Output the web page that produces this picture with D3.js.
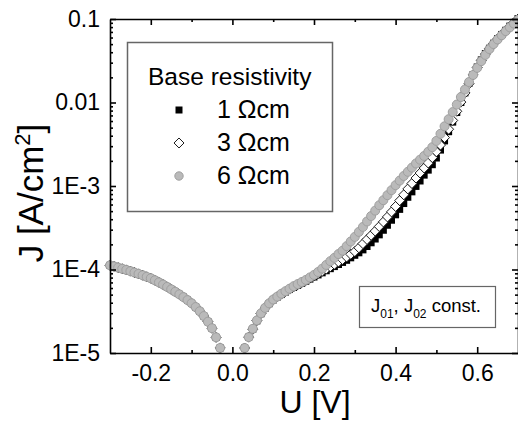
<!DOCTYPE html>
<html>
<head>
<meta charset="utf-8">
<script src="https://cdn.jsdelivr.net/npm/d3@7"></script>
<style>
  body { margin: 0; background: #fff; }
  svg { display: block; font-family: "Liberation Sans", Arial, sans-serif; }
</style>
</head>
<body>
<script>
// reverse bias part, identical for all three wafers
var reverseU = [-0.30, -0.29, -0.28, -0.27, -0.26, -0.25, -0.24, -0.23, -0.22, -0.21,
                -0.20, -0.19, -0.18, -0.17, -0.16, -0.15, -0.14, -0.13, -0.12, -0.11,
                -0.10, -0.09, -0.08, -0.07, -0.06, -0.05, -0.04, -0.03];
var reverseJ = [1.122e-4, 1.089e-4, 1.054e-4, 1.021e-4, 9.89e-5, 9.55e-5, 9.20e-5, 8.87e-5, 8.53e-5, 8.18e-5,
                7.85e-5, 7.43e-5, 7.01e-5, 6.61e-5, 6.19e-5, 5.79e-5, 5.41e-5, 5.04e-5, 4.67e-5, 4.30e-5,
                3.94e-5, 3.55e-5, 3.16e-5, 2.77e-5, 2.37e-5, 1.98e-5, 1.54e-5, 1.15e-5];

// forward bias voltages
var forwardU = [0.03, 0.04, 0.05, 0.06, 0.07, 0.08, 0.09, 0.10, 0.11, 0.12,
                0.13, 0.14, 0.15, 0.16, 0.17, 0.18, 0.19, 0.20, 0.21, 0.22,
                0.23, 0.24, 0.25, 0.26, 0.27, 0.28, 0.29, 0.30, 0.31, 0.32,
                0.33, 0.34, 0.35, 0.36, 0.37, 0.38, 0.39, 0.40, 0.41, 0.42,
                0.43, 0.44, 0.45, 0.46, 0.47, 0.48, 0.49, 0.50, 0.51, 0.52,
                0.53, 0.54, 0.55, 0.56, 0.57, 0.58, 0.59, 0.60, 0.61, 0.62,
                0.63, 0.64, 0.65, 0.66, 0.67, 0.68, 0.69, 0.70];

// 1 Ohm cm
var j1 = [1.148e-5, 1.549e-5, 1.928e-5, 2.427e-5, 2.951e-5, 3.428e-5, 3.890e-5, 4.315e-5, 4.677e-5, 5.012e-5,
          5.370e-5, 5.754e-5, 6.095e-5, 6.457e-5, 6.839e-5, 7.244e-5, 7.674e-5, 8.128e-5, 8.610e-5, 9.120e-5,
          9.661e-5, 1.023e-4, 1.084e-4, 1.148e-4, 1.216e-4, 1.288e-4, 1.380e-4, 1.479e-4, 1.585e-4, 1.718e-4,
          1.884e-4, 2.089e-4, 2.317e-4, 2.600e-4, 2.951e-4, 3.388e-4, 3.890e-4, 4.519e-4, 5.248e-4, 6.166e-4,
          7.328e-4, 8.511e-4, 9.886e-4, 1.148e-3, 1.349e-3, 1.549e-3, 1.799e-3, 2.163e-3, 2.692e-3, 3.467e-3,
          4.467e-3, 5.821e-3, 7.586e-3, 1.000e-2, 1.303e-2, 1.698e-2, 2.163e-2, 2.661e-2, 3.236e-2, 3.846e-2,
          4.467e-2, 5.129e-2, 5.821e-2, 6.531e-2, 7.328e-2, 8.222e-2, 9.120e-2, 1.012e-1];

// 3 Ohm cm
var j3 = [1.148e-5, 1.549e-5, 1.928e-5, 2.443e-5, 2.972e-5, 3.451e-5, 3.917e-5, 4.345e-5, 4.721e-5, 5.070e-5,
          5.433e-5, 5.821e-5, 6.194e-5, 6.577e-5, 6.982e-5, 7.413e-5, 7.889e-5, 8.395e-5, 8.933e-5, 9.506e-5,
          1.012e-4, 1.079e-4, 1.153e-4, 1.233e-4, 1.318e-4, 1.413e-4, 1.521e-4, 1.641e-4, 1.820e-4, 2.042e-4,
          2.291e-4, 2.570e-4, 2.884e-4, 3.273e-4, 3.715e-4, 4.266e-4, 4.898e-4, 5.689e-4, 6.683e-4, 7.852e-4,
          9.226e-4, 1.072e-3, 1.245e-3, 1.429e-3, 1.641e-3, 1.884e-3, 2.188e-3, 2.570e-3, 3.090e-3, 3.802e-3,
          4.786e-3, 6.095e-3, 7.852e-3, 1.012e-2, 1.303e-2, 1.679e-2, 2.138e-2, 2.630e-2, 3.199e-2, 3.802e-2,
          4.416e-2, 5.070e-2, 5.754e-2, 6.457e-2, 7.244e-2, 8.128e-2, 9.016e-2, 1.000e-1];

// 6 Ohm cm
var j6 = [1.148e-5, 1.549e-5, 1.950e-5, 2.455e-5, 2.985e-5, 3.467e-5, 3.936e-5, 4.365e-5, 4.732e-5, 5.129e-5,
          5.495e-5, 5.888e-5, 6.310e-5, 6.683e-5, 7.079e-5, 7.499e-5, 8.035e-5, 8.610e-5, 9.333e-5, 1.023e-4,
          1.135e-4, 1.259e-4, 1.380e-4, 1.531e-4, 1.679e-4, 1.905e-4, 2.163e-4, 2.455e-4, 2.818e-4, 3.236e-4,
          3.758e-4, 4.365e-4, 5.070e-4, 5.888e-4, 6.761e-4, 7.762e-4, 8.913e-4, 1.023e-3, 1.161e-3, 1.318e-3,
          1.479e-3, 1.660e-3, 1.862e-3, 2.065e-3, 2.291e-3, 2.570e-3, 2.917e-3, 3.467e-3, 4.217e-3, 5.188e-3,
          6.310e-3, 7.674e-3, 9.441e-3, 1.161e-2, 1.429e-2, 1.758e-2, 2.138e-2, 2.600e-2, 3.126e-2, 3.715e-2,
          4.365e-2, 5.012e-2, 5.689e-2, 6.383e-2, 7.161e-2, 7.943e-2, 8.810e-2, 9.772e-2];

var seriesNames = ["1 \u03A9cm", "3 \u03A9cm", "6 \u03A9cm"];

var xMajor = [-0.2, 0.0, 0.2, 0.4, 0.6];
var xMinor = [-0.1, 0.1, 0.3, 0.5];
var yMajor = [1e-5, 1e-4, 1e-3, 1e-2, 1e-1];
var yLabels = ["1E-5", "1E-4", "1E-3", "0.01", "0.1"];

var W = 518, H = 421;
var plotL = 110, plotR = 518, plotT = 19, plotB = 353;

var svg = d3.select("body").append("svg")
    .attr("width", W)
    .attr("height", H);

var x = d3.scaleLinear().domain([-0.3, 0.7]).range([plotL, plotR]);
var y = d3.scaleLog().domain([1e-5, 0.1]).range([plotB, plotT]);

// minor log ticks 2..9 of each decade
var yMinor = [];
yMajor.slice(0, -1).forEach(function(d) {
    for (var k = 2; k <= 9; k++) yMinor.push(d * k);
});

function pts(js) {
    var a = reverseU.map(function(u, i) { return { u: u, j: reverseJ[i] }; });
    return a.concat(forwardU.map(function(u, i) { return { u: u, j: js[i] }; }));
}

// markers: black squares, open diamonds, grey circles on top
var sq = d3.symbol().type(d3.symbolSquare).size(49);
var dm = d3.symbol().type(d3.symbolSquare).size(50);

svg.append("g").selectAll("path")
    .data(pts(j1)).enter().append("path")
    .attr("d", sq)
    .attr("transform", function(d) { return "translate(" + x(d.u) + "," + y(d.j) + ")"; })
    .attr("fill", "#000");

svg.append("g").selectAll("path")
    .data(pts(j3)).enter().append("path")
    .attr("d", dm)
    .attr("transform", function(d) { return "translate(" + x(d.u) + "," + y(d.j) + ") rotate(45)"; })
    .attr("fill", "#fff")
    .attr("stroke", "#111")
    .attr("stroke-width", 0.9);

svg.append("g").selectAll("circle")
    .data(pts(j6)).enter().append("circle")
    .attr("cx", function(d) { return x(d.u); })
    .attr("cy", function(d) { return y(d.j); })
    .attr("r", 4.5)
    .attr("fill", "#bababa")
    .attr("stroke", "#a0a0a0")
    .attr("stroke-width", 1);

// axes, ticks pointing inwards
function style(g) {
    g.attr("font-size", 23).attr("font-family", "Liberation Sans, Arial, sans-serif");
    g.selectAll("path, line").attr("stroke", "#000").attr("stroke-width", 1.6);
    g.selectAll("text").attr("fill", "#000");
}

svg.append("g").attr("transform", "translate(0," + plotB + ")")
    .call(d3.axisBottom(x).tickValues(xMajor).tickSizeInner(-6).tickSizeOuter(0).tickPadding(12)
        .tickFormat(function(d) { return d.toFixed(1); }))
    .call(style);
svg.append("g").attr("transform", "translate(0," + plotB + ")")
    .call(d3.axisBottom(x).tickValues(xMinor).tickSizeInner(-3).tickSizeOuter(0).tickFormat(""))
    .call(style).select(".domain").remove();

svg.append("g").attr("transform", "translate(0," + plotT + ")")
    .call(d3.axisTop(x).tickValues(xMajor).tickSizeInner(-6).tickSizeOuter(0).tickFormat(""))
    .call(style);
svg.append("g").attr("transform", "translate(0," + plotT + ")")
    .call(d3.axisTop(x).tickValues(xMinor).tickSizeInner(-3).tickSizeOuter(0).tickFormat(""))
    .call(style).select(".domain").remove();

svg.append("g").attr("transform", "translate(" + plotL + ",0)")
    .call(d3.axisLeft(y).tickValues(yMajor).tickSizeInner(-6).tickSizeOuter(0).tickPadding(10)
        .tickFormat(function(d, i) { return yLabels[i]; }))
    .call(style);
svg.append("g").attr("transform", "translate(" + plotL + ",0)")
    .call(d3.axisLeft(y).tickValues(yMinor).tickSizeInner(-3).tickSizeOuter(0).tickFormat(""))
    .call(style).select(".domain").remove();

svg.append("g").attr("transform", "translate(" + plotR + ",0)")
    .call(d3.axisRight(y).tickValues(yMajor).tickSizeInner(-6).tickSizeOuter(0).tickFormat(""))
    .call(style);
svg.append("g").attr("transform", "translate(" + plotR + ",0)")
    .call(d3.axisRight(y).tickValues(yMinor).tickSizeInner(-3).tickSizeOuter(0).tickFormat(""))
    .call(style).select(".domain").remove();

// axis titles
svg.append("text")
    .attr("x", 315).attr("y", 413)
    .attr("text-anchor", "middle")
    .attr("font-size", 32)
    .text("U [V]");

var yt = svg.append("text")
    .attr("transform", "translate(43,193) rotate(-90)")
    .attr("text-anchor", "middle")
    .attr("font-size", 35);
yt.append("tspan").text("J [A/cm");
yt.append("tspan").attr("font-size", 22).attr("dy", -13).text("2");
yt.append("tspan").attr("dy", 13).text("]");

// legend
var lg = svg.append("g");
lg.append("rect")
    .attr("x", 127.5).attr("y", 42.5).attr("width", 205).attr("height", 169)
    .attr("fill", "#fff").attr("stroke", "#666").attr("stroke-width", 1.5);
lg.append("text").attr("x", 148).attr("y", 85).attr("font-size", 24.5).text("Base resistivity");

var rowsY = [110, 143, 176];
lg.append("path").attr("d", sq).attr("transform", "translate(179," + rowsY[0] + ")").attr("fill", "#000");
lg.append("path").attr("d", dm).attr("transform", "translate(179," + rowsY[1] + ") rotate(45)")
    .attr("fill", "#fff").attr("stroke", "#111").attr("stroke-width", 0.9);
lg.append("circle").attr("cx", 179).attr("cy", rowsY[2]).attr("r", 4.2)
    .attr("fill", "#bababa").attr("stroke", "#a0a0a0");
lg.selectAll("text.entry").data(seriesNames).enter().append("text")
    .attr("class", "entry")
    .attr("x", 217)
    .attr("y", function(d, i) { return rowsY[i] + 8; })
    .attr("font-size", 25)
    .text(function(d) { return d; });

// note box
var nb = svg.append("g");
nb.append("rect")
    .attr("x", 359.5).attr("y", 286.5).attr("width", 136).attr("height", 41)
    .attr("fill", "#fff").attr("stroke", "#666").attr("stroke-width", 1.2);
var nt = nb.append("text").attr("x", 371).attr("y", 312).attr("font-size", 18.5);
nt.append("tspan").text("J");
nt.append("tspan").attr("font-size", 12).attr("dy", 6).text("01");
nt.append("tspan").attr("dy", -6).text(", J");
nt.append("tspan").attr("font-size", 12).attr("dy", 6).text("02");
nt.append("tspan").attr("dy", -6).text(" const.");
</script>
</body>
</html>
